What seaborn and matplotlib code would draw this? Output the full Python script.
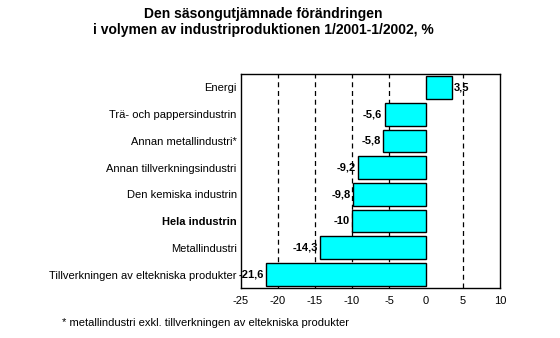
import matplotlib
matplotlib.use("Agg")
import matplotlib.pyplot as plt
import seaborn as sns
import pandas as pd

categories = ["Energi", "Trä- och pappersindustrin", "Annan metallindustri*",
              "Annan tillverkningsindustri", "Den kemiska industrin", "Hela industrin",
              "Metallindustri", "Tillverkningen av eltekniska produkter"]
values = [3.5, -5.6, -5.8, -9.2, -9.8, -10.0, -14.3, -21.6]
value_labels = ["3,5", "-5,6", "-5,8", "-9,2", "-9,8", "-10", "-14,3", "-21,6"]
xticks = [-25, -20, -15, -10, -5, 0, 5, 10]

sns.set_theme(style="white", rc={"text.color": "black", "xtick.color": "black",
                                 "ytick.color": "black", "axes.labelcolor": "black"})
plt.rcParams['font.family'] = ['Liberation Sans Narrow', 'Liberation Sans', 'DejaVu Sans']

df = pd.DataFrame({"cat": categories, "val": values})
fig = plt.figure(figsize=(5.6, 3.38), dpi=100)
ax = fig.add_axes([0.430, 0.148, 0.463, 0.633])
sns.barplot(data=df, x="val", y="cat", orient="h", color="#00FFFF",
            saturation=1, edgecolor="black", linewidth=1, width=0.85, ax=ax)
ax.set_xlim(-25, 10)
ax.set_xticks(xticks)
ax.set_xticklabels([str(t) for t in xticks], fontsize=8)
for g in [-20, -15, -10, -5, 5]:
    ax.axvline(g, color="black", linestyle=(0, (4, 3)), linewidth=0.9, zorder=0)
ax.set_xlabel("")
ax.set_ylabel("")
ax.tick_params(axis='y', length=0, pad=3, labelsize=8, labelcolor="black")
ax.tick_params(axis='x', length=0, pad=6, labelcolor="black")
for lab in ax.get_yticklabels():
    if lab.get_text() == "Hela industrin":
        lab.set_fontweight("bold")
for s in ax.spines.values():
    s.set_color("black")
    s.set_linewidth(1)
for i, (v, t) in enumerate(zip(values, value_labels)):
    if v >= 0:
        ax.text(v + 0.3, i, t, ha="left", va="center", fontsize=8, fontweight="bold", color="black")
    else:
        ax.text(v - 0.3, i, t, ha="right", va="center", fontsize=8, fontweight="bold", color="black")

fig.text(0.47, 0.978, "Den säsongutjämnade förändringen\ni volymen av industriproduktionen 1/2001-1/2002, %",
         ha="center", va="top", fontsize=10, fontweight="bold", linespacing=1.15, color="black")
fig.text(0.11, 0.045, "* metallindustri exkl. tillverkningen av eltekniska produkter",
         ha="left", va="center", fontsize=8, color="black")
fig.savefig("out.png", dpi=100)
